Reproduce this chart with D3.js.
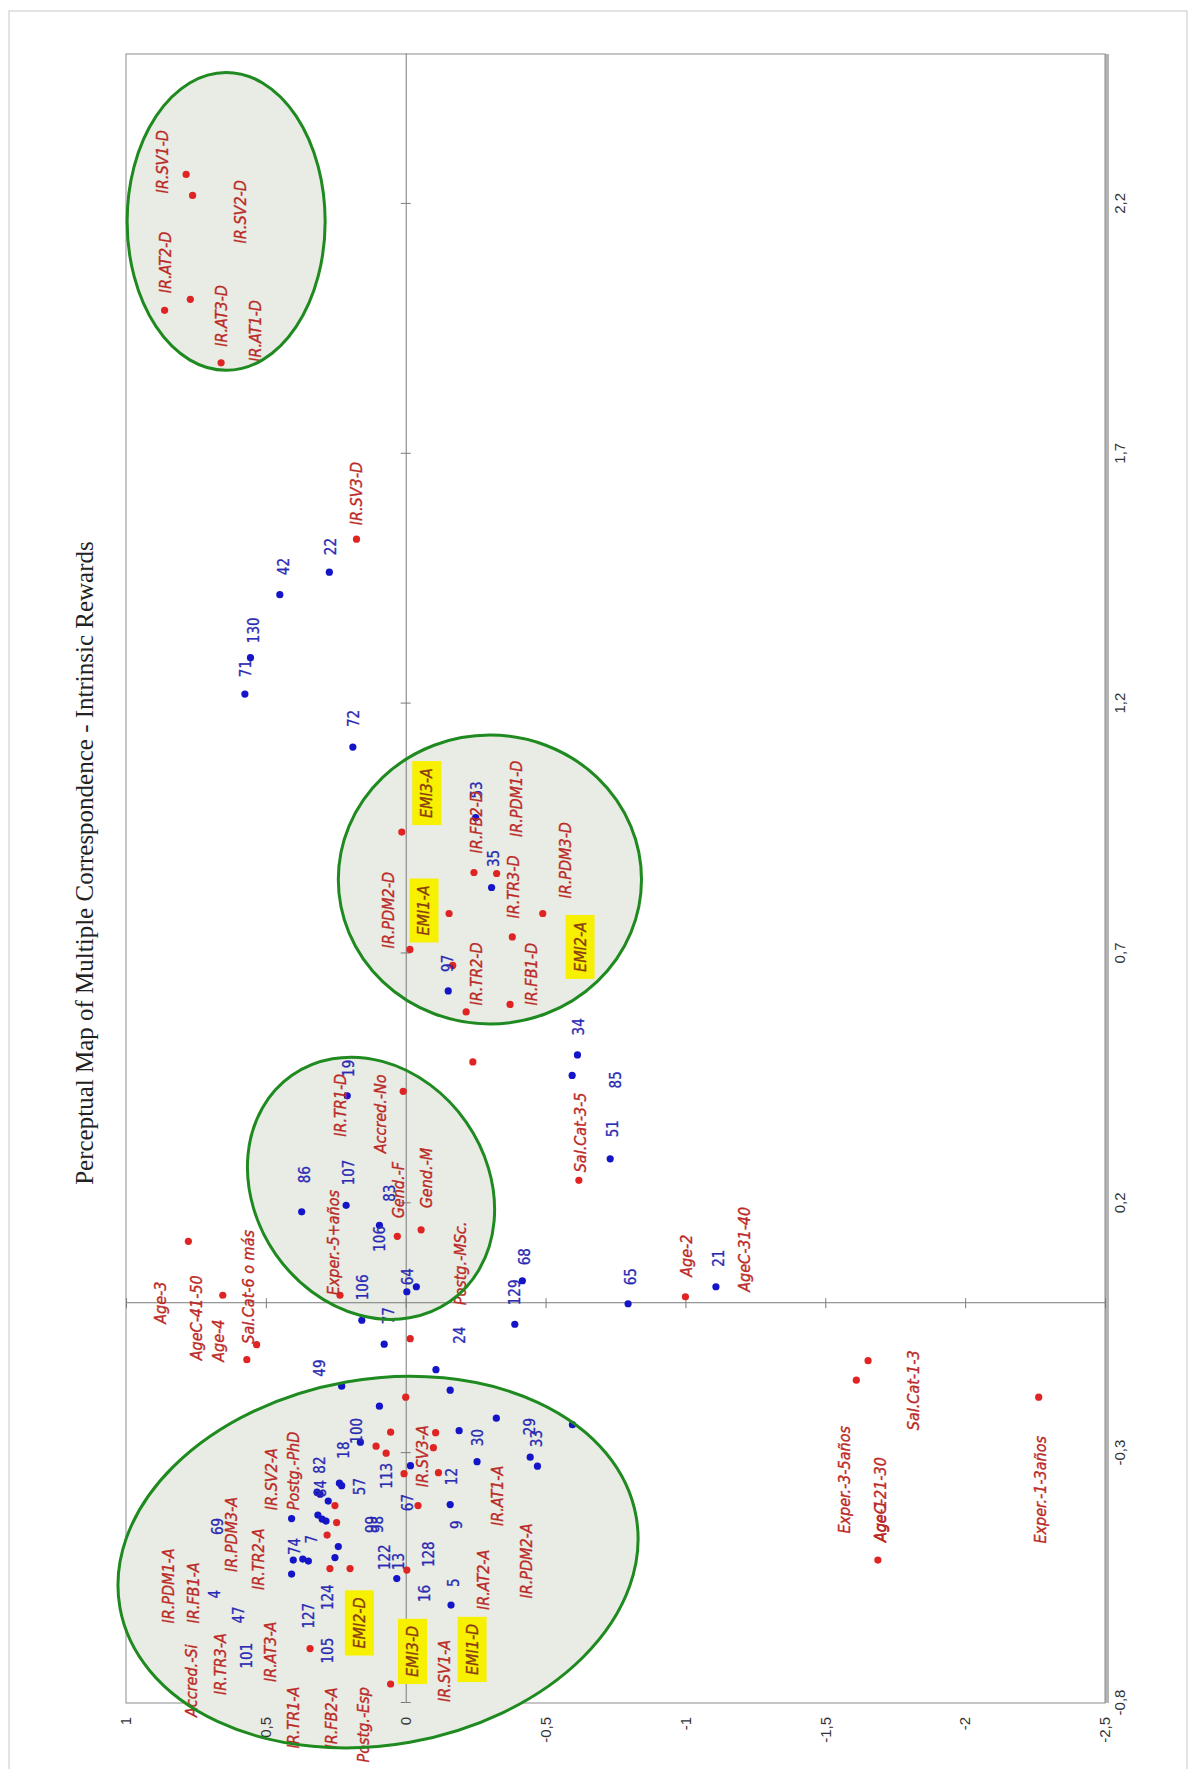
<!DOCTYPE html>
<html>
<head>
<meta charset="utf-8">
<script src="https://cdn.jsdelivr.net/npm/d3@7"></script>
<style>
body { margin: 0; background: #fff; }
.lab { font-family: "Liberation Sans Narrow", "DejaVu Sans Condensed", Roboto, sans-serif; }
</style>
</head>
<body>
<svg id="chart"></svg>
<script>
// tick values of both dimensions
var dim1Ticks = [-0.8, -0.3, 0.2, 0.7, 1.2, 1.7, 2.2]
var dim2Ticks = [1, 0.5, 0, -0.5, -1, -1.5, -2, -2.5]

// observations (blue dots), [dim1, dim2]
var obsPoints = [
    [-0.431,0.408],[-0.424,0.314],[-0.432,0.299],[-0.436,0.285],[-0.378,0.317],[-0.382,0.306],
    [-0.396,0.277],[-0.360,0.237],[-0.365,0.229],[-0.278,0.162],[-0.487,0.241],[-0.514,0.402],
    [-0.512,0.368],[-0.516,0.348],[-0.542,0.408],[-0.509,0.253],[-0.551,0.032],[-0.206,0.094],
    [-0.325,-0.017],[-0.403,-0.159],[-0.604,-0.162],[-0.255,-0.191],[-0.317,-0.255],[-0.230,-0.324],
    [-0.308,-0.445],[-0.326,-0.471],[-0.243,-0.596],[-0.166,0.229],[-0.133,-0.108],[-0.174,-0.159],
    [-0.082,0.077],[-0.034,0.157],[0.023,-0.004],[0.033,-0.038],[-0.042,-0.390],[0.045,-0.417],
    [-0.001,-0.795],[0.033,-1.109],[0.156,0.094],[0.196,0.213],[0.183,0.372],[0.415,0.209],
    [0.625,-0.152],[0.972,-0.250],[0.832,-0.307],[1.113,0.189],[0.497,-0.614],[0.456,-0.595],
    [0.289,-0.731],[1.292,0.555],[1.219,0.575],[1.418,0.450],[1.463,0.273]
]

// observation labels, [text, dim1, dim2] where the text starts
var obsLabels = [
    ["130",1.321,0.543],["71",1.253,0.571],["42",1.457,0.435],["22",1.497,0.269],["72",1.153,0.185],
    ["53",1.010,-0.254],["35",0.873,-0.316],["97",0.663,-0.149],["34",0.536,-0.617],["85",0.430,-0.752],
    ["51",0.332,-0.739],["19",0.453,0.205],["86",0.240,0.360],["107",0.236,0.205],["83",0.203,0.056],
    ["106",0.103,0.092],["106",0.006,0.152],["64",0.036,-0.009],["68",0.076,-0.424],["129",-0.004,-0.391],
    ["65",0.036,-0.806],["21",0.073,-1.119],["77",-0.042,0.062],["24",-0.081,-0.194],["49",-0.147,0.306],
    ["100",-0.281,0.175],["18",-0.311,0.223],["82",-0.341,0.306],["57",-0.384,0.163],["113",-0.371,0.068],
    ["30",-0.286,-0.257],["29",-0.264,-0.445],["33",-0.288,-0.467],["12",-0.364,-0.166],["67",-0.416,-0.006],
    ["9",-0.452,-0.184],["99",-0.460,0.120],["98",-0.460,0.101],["122",-0.534,0.074],["13",-0.534,0.026],
    ["128",-0.528,-0.083],["16",-0.598,-0.067],["5",-0.568,-0.170],["84",-0.388,0.302],["7",-0.481,0.336],
    ["74",-0.504,0.396],["69",-0.464,0.671],["4",-0.591,0.682],["47",-0.641,0.598],["101",-0.731,0.568],
    ["127",-0.651,0.348],["124",-0.614,0.277],["105",-0.721,0.277]
]

// variable categories (red dots), [dim1, dim2]
var catPoints = [
    [2.259,0.785],[2.217,0.762],[2.009,0.770],[1.987,0.862],[1.882,0.660],[1.529,0.176],
    [0.943,0.014],[0.862,-0.244],[0.860,-0.325],[0.780,-0.155],[0.780,-0.490],[0.733,-0.381],
    [0.708,-0.015],[0.676,-0.168],[0.598,-0.373],[0.583,-0.216],[0.483,-0.240],[0.424,0.009],
    [0.134,0.030],[0.147,-0.055],[0.016,0.235],[0.124,0.777],[0.016,0.654],[-0.083,0.533],
    [-0.113,0.568],[0.246,-0.619],[0.013,-1.000],[-0.071,-0.016],[-0.188,0.000],[-0.258,0.054],
    [-0.259,-0.107],[-0.300,0.070],[-0.286,0.106],[-0.289,-0.099],[-0.341,0.006],[-0.339,-0.117],
    [-0.405,-0.044],[-0.534,-0.004],[-0.762,0.054],[-0.405,0.253],[-0.439,0.247],[-0.464,0.281],
    [-0.531,0.271],[-0.531,0.199],[-0.691,0.342],[-0.115,-1.653],[-0.154,-1.611],[-0.188,-2.263],
    [-0.514,-1.688]
]

// category labels, [text, dim1, dim2]
var catLabels = [
    ["IR.SV1-D",2.221,0.871],["IR.SV2-D",2.121,0.591],["IR.AT2-D",2.021,0.859],["IR.AT3-D",1.914,0.659],
    ["IR.AT1-D",1.884,0.538],["IR.SV3-D",1.557,0.176],["EMI3-A",0.971,-0.075],["IR.FB2-D",0.900,-0.254],
    ["IR.PDM1-D",0.933,-0.397],["IR.PDM2-D",0.710,0.062],["EMI1-A",0.736,-0.065],["IR.TR3-D",0.770,-0.385],
    ["IR.PDM3-D",0.810,-0.570],["IR.TR2-D",0.596,-0.254],["IR.FB1-D",0.596,-0.450],["EMI2-A",0.663,-0.623],
    ["IR.TR1-D",0.333,0.235],["Accred.-No",0.300,0.092],["Gend.-F",0.170,0.026],["Gend.-M",0.190,-0.075],
    ["Exper.-5+años",0.016,0.259],["Postg.-MSc.",-0.004,-0.194],["Sal.Cat-3-5",0.262,-0.623],
    ["Age-2",0.053,-1.005],["AgeC-31-40",0.023,-1.211],["Age-3",-0.041,0.878],["AgeC-41-50",-0.114,0.747],
    ["Age-4",-0.117,0.670],["Sal.Cat-6 o más",-0.081,0.563],["IR.SV2-A",-0.414,0.479],["Postg.-PhD",-0.414,0.403],
    ["IR.SV3-A",-0.368,-0.058],["IR.AT1-A",-0.446,-0.327],["IR.PDM2-A",-0.591,-0.433],["IR.AT2-A",-0.614,-0.277],
    ["EMI1-D",-0.744,-0.237],["EMI3-D",-0.748,-0.024],["IR.SV1-A",-0.798,-0.138],["EMI2-D",-0.691,0.166],
    ["IR.PDM3-A",-0.538,0.622],["IR.TR2-A",-0.574,0.527],["IR.PDM1-A",-0.641,0.849],["IR.FB1-A",-0.641,0.759],
    ["IR.TR3-A",-0.784,0.664],["IR.AT3-A",-0.758,0.485],["Accred.-Si",-0.828,0.765],["IR.TR1-A",-0.891,0.402],
    ["IR.FB2-A",-0.891,0.265],["Postg.-Esp",-0.919,0.152],["Exper.-3-5años",-0.461,-1.568],
    ["AgeC-21-30",-0.478,-1.696],["Age-1",-0.478,-1.696],["Sal.Cat-1-3",-0.254,-1.815],
    ["Exper.-1-3años",-0.481,-2.268]
]

var highlighted = ["EMI1-A", "EMI2-A", "EMI3-A", "EMI1-D", "EMI2-D", "EMI3-D"]

// hand drawn groups: [dim1 centre, dim2 centre, dim1 radius, dim2 radius]
var groups = [
    [2.165, 0.642, 0.298, 0.354],
    [0.848, -0.301, 0.289, 0.542],
    [0.230, 0.124, 0.232, 0.493],
    [-0.518, 0.099, 0.366, 0.937]
]
var groupTilt = [0, 0, 55, -10]

var title = "Perceptual Map of Multiple Correspondence - Intrinsic Rewards"

var screen = {width: 1191, height: 1769}
// the chart is laid out landscape, then turned a quarter to the left
var plot = {left: 126, bottom: 1703, w: 1649, h: 979}

var svg = d3.select("#chart")
    .attr("width", screen.width)
    .attr("height", screen.height)

svg.append("rect")
    .attr("x", 9).attr("y", 11)
    .attr("width", 1178).attr("height", 1780)
    .attr("fill", "none")
    .attr("stroke", "#c8c8c8")

var g = svg.append("g")
    .attr("transform", "translate(" + plot.left + "," + plot.bottom + ") rotate(-90)")

var xScale = d3.scaleLinear().domain([-0.8, 2.5]).range([0, plot.w])
var yScale = d3.scaleLinear().domain([1, -2.5]).range([0, plot.h])

var loc = d3.formatLocale({decimal: ",", thousands: ".", grouping: [3], currency: ["", ""], minus: "-"})
var fmt = loc.format("~g")

// plot frame with its shadow
g.append("rect")
    .attr("x", 0).attr("y", plot.h)
    .attr("width", plot.w).attr("height", 4)
    .attr("fill", "#b4b4b4")
g.append("rect")
    .attr("width", plot.w).attr("height", plot.h)
    .attr("fill", "#fff")
    .attr("stroke", "#8c8c8c")

// group fills
g.selectAll("ellipse.fill")
    .data(groups)
    .enter()
    .append("ellipse")
    .attr("class", "fill")
    .attr("cx", function(d){return xScale(d[0])})
    .attr("cy", function(d){return yScale(d[1])})
    .attr("rx", function(d){return xScale(d[0] + d[2]) - xScale(d[0])})
    .attr("ry", function(d){return yScale(d[1] - d[3]) - yScale(d[1])})
    .attr("transform", function(d, i){return "rotate(" + groupTilt[i] + "," + xScale(d[0]) + "," + yScale(d[1]) + ")"})
    .attr("fill", "#e8ece4")

// zero lines with cross ticks
var zeroX = g.append("g").attr("transform", "translate(0," + yScale(0) + ")")
zeroX.append("g").call(d3.axisBottom(xScale).tickValues(dim1Ticks).tickSize(5).tickSizeOuter(0).tickFormat(""))
zeroX.append("g").call(d3.axisTop(xScale).tickValues(dim1Ticks).tickSize(5).tickSizeOuter(0).tickFormat(""))
    .select(".domain").remove()
var zeroY = g.append("g").attr("transform", "translate(" + xScale(0) + ",0)")
zeroY.append("g").call(d3.axisLeft(yScale).tickValues(dim2Ticks).tickSize(5).tickSizeOuter(0).tickFormat(""))
zeroY.append("g").call(d3.axisRight(yScale).tickValues(dim2Ticks).tickSize(5).tickSizeOuter(0).tickFormat(""))
    .select(".domain").remove()
g.selectAll(".tick line, .domain").attr("stroke", "#7a7a7a")

// tick labels
var ax1 = g.append("g").attr("transform", "translate(0," + plot.h + ")")
    .call(d3.axisBottom(xScale).tickValues(dim1Ticks).tickSize(0).tickPadding(9).tickFormat(fmt))
var ax2 = g.append("g")
    .call(d3.axisLeft(yScale).tickValues(dim2Ticks).tickSize(0).tickPadding(14).tickFormat(fmt))
ax1.select(".domain").remove()
ax2.select(".domain").remove()
g.selectAll(".tick text")
    .attr("font-family", "'Liberation Sans', Arial, sans-serif")
    .attr("font-size", 15)
    .attr("fill", "#333")

// dots
g.selectAll("circle.obs")
    .data(obsPoints)
    .enter()
    .append("circle")
    .attr("class", "obs")
    .attr("cx", function(d){return xScale(d[0])})
    .attr("cy", function(d){return yScale(d[1])})
    .attr("r", 3.6)
    .attr("fill", "#1414c8")

g.selectAll("circle.cat")
    .data(catPoints)
    .enter()
    .append("circle")
    .attr("class", "cat")
    .attr("cx", function(d){return xScale(d[0])})
    .attr("cy", function(d){return yScale(d[1])})
    .attr("r", 3.6)
    .attr("fill", "#e02424")

// labels
var boxLayer = g.append("g")

g.selectAll("text.obs")
    .data(obsLabels)
    .enter()
    .append("text")
    .attr("class", "obs lab")
    .attr("x", function(d){return xScale(d[1])})
    .attr("y", function(d){return yScale(d[2])})
    .attr("dy", "0.35em")
    .attr("font-size", 15)
    .attr("fill", "#2a2ab4")
    .attr("stroke", "#2a2ab4")
    .attr("stroke-width", 0.3)
    .text(function(d){return d[0]})

var catText = g.selectAll("text.cat")
    .data(catLabels)
    .enter()
    .append("text")
    .attr("class", "cat lab")
    .attr("x", function(d){return xScale(d[1])})
    .attr("y", function(d){return yScale(d[2])})
    .attr("dy", "0.35em")
    .attr("font-size", 16)
    .attr("font-style", "italic")
    .attr("fill", "#bb2a26")
    .attr("stroke", "#bb2a26")
    .attr("stroke-width", 0.35)
    .text(function(d){return d[0]})

catText.filter(function(d){return highlighted.indexOf(d[0]) >= 0})
    .each(function()
    {
        var b = this.getBBox()
        boxLayer.append("rect")
            .attr("x", b.x - 7).attr("y", b.y - 5)
            .attr("width", b.width + 14).attr("height", b.height + 10)
            .attr("fill", "#f7f000")
    })
    .attr("fill", "#8a3a10")
    .attr("stroke", "#8a3a10")

// group outlines on top
g.selectAll("ellipse.line")
    .data(groups)
    .enter()
    .append("ellipse")
    .attr("class", "line")
    .attr("cx", function(d){return xScale(d[0])})
    .attr("cy", function(d){return yScale(d[1])})
    .attr("rx", function(d){return xScale(d[0] + d[2]) - xScale(d[0])})
    .attr("ry", function(d){return yScale(d[1] - d[3]) - yScale(d[1])})
    .attr("transform", function(d, i){return "rotate(" + groupTilt[i] + "," + xScale(d[0]) + "," + yScale(d[1]) + ")"})
    .attr("fill", "none")
    .attr("stroke", "#1f8a1f")
    .attr("stroke-width", 3)

g.append("text")
    .attr("x", 840)
    .attr("y", -42)
    .attr("dy", "0.35em")
    .attr("text-anchor", "middle")
    .attr("font-family", "'Liberation Serif', 'Times New Roman', serif")
    .attr("font-size", 25)
    .attr("fill", "#222")
    .text(title)
</script>
</body>
</html>
